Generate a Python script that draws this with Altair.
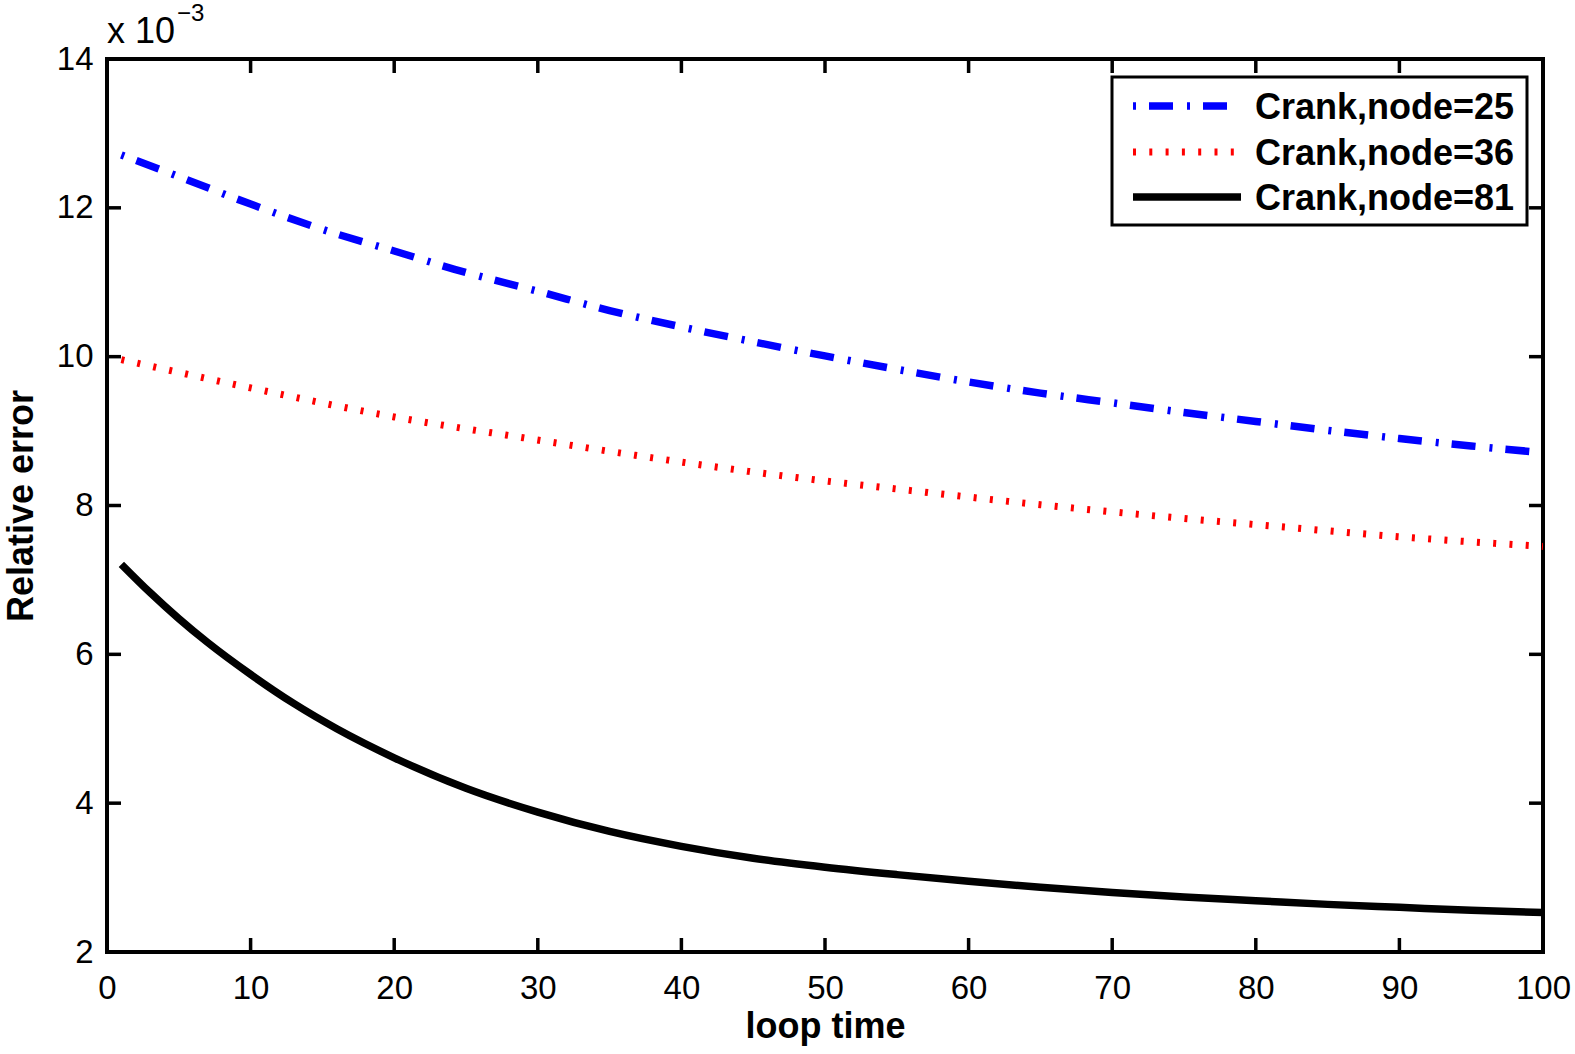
import altair as alt
import pandas as pd

# ---- data (values shown in units of 1e-3) ----
series_names = ["Crank,node=25", "Crank,node=36", "Crank,node=81"]

x_blue = [1, 5, 10, 15, 20, 25, 30, 35, 40, 45, 50, 55, 60, 65, 70, 75, 80, 85, 90, 95, 100]
y_blue = [12.71, 12.42, 12.05, 11.71, 11.42, 11.13, 10.88, 10.62, 10.40, 10.20, 10.01,
          9.83, 9.66, 9.51, 9.38, 9.25, 9.13, 9.01, 8.90, 8.80, 8.71]

x_red = [1, 10, 20, 29, 38, 47, 56, 65, 73, 82, 90, 100]
y_red = [9.96, 9.58, 9.19, 8.91, 8.64, 8.40, 8.20, 8.01, 7.86, 7.71, 7.58, 7.45]

x_black = [1, 3, 5, 7, 10, 13, 16, 20, 25, 30, 35, 40, 45, 50, 55, 60, 65, 70, 75, 80, 85, 90, 95, 100]
y_black = [7.21, 6.83, 6.48, 6.16, 5.73, 5.34, 5.00, 4.61, 4.20, 3.88, 3.62, 3.42, 3.26, 3.14,
           3.04, 2.95, 2.87, 2.80, 2.74, 2.69, 2.64, 2.60, 2.56, 2.53]

x_ticks = [0, 10, 20, 30, 40, 50, 60, 70, 80, 90, 100]
y_ticks = [2, 4, 6, 8, 10, 12, 14]

x_title = "loop time"
y_title = "Relative error"
exp_base = "x 10"
exp_power = "\u22123"

# ---- layout / style ----
W, H = 1436, 893
FONT = "Liberation Sans"
TICK = 14

rows = []
for name, xs, ys in zip(series_names, [x_blue, x_red, x_black], [y_blue, y_red, y_black]):
    for a, b in zip(xs, ys):
        rows.append({"series": name, "loop": a, "err": b})
df = pd.DataFrame(rows)

styles = {
    "Crank,node=25": dict(color="#0000ff", width=7.5, dash=[3, 13, 24, 14]),
    "Crank,node=36": dict(color="#ff0000", width=7, dash=[3, 13.3]),
    "Crank,node=81": dict(color="#000000", width=7.5, dash=None),
}

xscale = alt.Scale(domain=[0, 100], nice=False, zero=False)
yscale = alt.Scale(domain=[2, 14], nice=False, zero=False)

xaxis = alt.Axis(values=x_ticks, format="d", labelFont=FONT, labelFontSize=33,
                 labelColor="black", labelPadding=20, labelFlush=False, labelOverlap=False,
                 ticks=False, tickSize=0, domain=False, grid=False,
                 title=x_title, titleFont=FONT, titleFontSize=36, titleFontWeight="bold",
                 titleColor="black", titleY=85, titleBaseline="alphabetic")
yaxis = alt.Axis(values=y_ticks, format="d", labelFont=FONT, labelFontSize=33,
                 labelColor="black", labelPadding=14, labelFlush=False, labelOverlap=False,
                 ticks=False, tickSize=0, domain=False, grid=False,
                 title=y_title, titleFont=FONT, titleFontSize=36, titleFontWeight="bold",
                 titleColor="black", titleAngle=270, titleX=-75, titleY=H / 2,
                 titleAlign="center", titleBaseline="alphabetic")

layers = []
for name in series_names:
    st = styles[name]
    mk = dict(color=st["color"], strokeWidth=st["width"], strokeCap="butt",
              interpolate="monotone", clip=True)
    if st["dash"]:
        mk["strokeDash"] = st["dash"]
    layers.append(
        alt.Chart(df).transform_filter(alt.datum.series == name).mark_line(**mk).encode(
            x=alt.X("loop:Q", scale=xscale, axis=xaxis),
            y=alt.Y("err:Q", scale=yscale, axis=yaxis),
            order="loop:Q",
        )
    )

# inward tick marks on all four sides
xt = pd.DataFrame({"loop": x_ticks})
yt = pd.DataFrame({"err": y_ticks})
for y0, y1 in [(H, H - TICK), (0, TICK)]:
    layers.append(alt.Chart(xt).mark_rule(color="black", strokeWidth=3.5).encode(
        x=alt.X("loop:Q", scale=xscale, axis=xaxis), y=alt.value(y0), y2=alt.value(y1)))
for x0, x1 in [(0, TICK), (W, W - TICK)]:
    layers.append(alt.Chart(yt).mark_rule(color="black", strokeWidth=3.5).encode(
        y=alt.Y("err:Q", scale=yscale, axis=yaxis), x=alt.value(x0), x2=alt.value(x1)))

# legend
one = pd.DataFrame({"k": [0]})
layers.append(alt.Chart(one).mark_rect(fill="white", stroke="black", strokeWidth=3).encode(
    x=alt.value(1005), x2=alt.value(1420), y=alt.value(18), y2=alt.value(166)))
row_y = [47, 93, 138]
for name, ry in zip(series_names, row_y):
    st = styles[name]
    mk = dict(color=st["color"], strokeWidth=st["width"], strokeCap="butt")
    if st["dash"]:
        mk["strokeDash"] = st["dash"]
    ldf = pd.DataFrame({"label": [name]})
    layers.append(alt.Chart(ldf).mark_rule(**mk).encode(
        x=alt.value(1026), x2=alt.value(1134), y=alt.value(ry)))
    layers.append(alt.Chart(ldf).mark_text(align="left", baseline="alphabetic", font=FONT,
                                           fontSize=36, fontWeight="bold", color="black").encode(
        x=alt.value(1148), y=alt.value(ry + 13), text="label:N"))

# exponent label
layers.append(alt.Chart(pd.DataFrame({"t": [exp_base]})).mark_text(
    align="left", baseline="alphabetic", font=FONT, fontSize=36, color="black").encode(
    x=alt.value(0), y=alt.value(-16), text="t:N"))
layers.append(alt.Chart(pd.DataFrame({"t": [exp_power]})).mark_text(
    align="left", baseline="alphabetic", font=FONT, fontSize=24, color="black").encode(
    x=alt.value(70), y=alt.value(-38), text="t:N"))

chart = alt.layer(*layers).properties(
    width=W, height=H,
    autosize=alt.AutoSizeParams(type="none"),
    padding={"left": 107, "top": 59, "right": 32, "bottom": 102},
    background="white",
).configure_view(stroke="black", strokeWidth=4)

chart.save("out.html", embed_options={"renderer": "svg", "actions": False})
